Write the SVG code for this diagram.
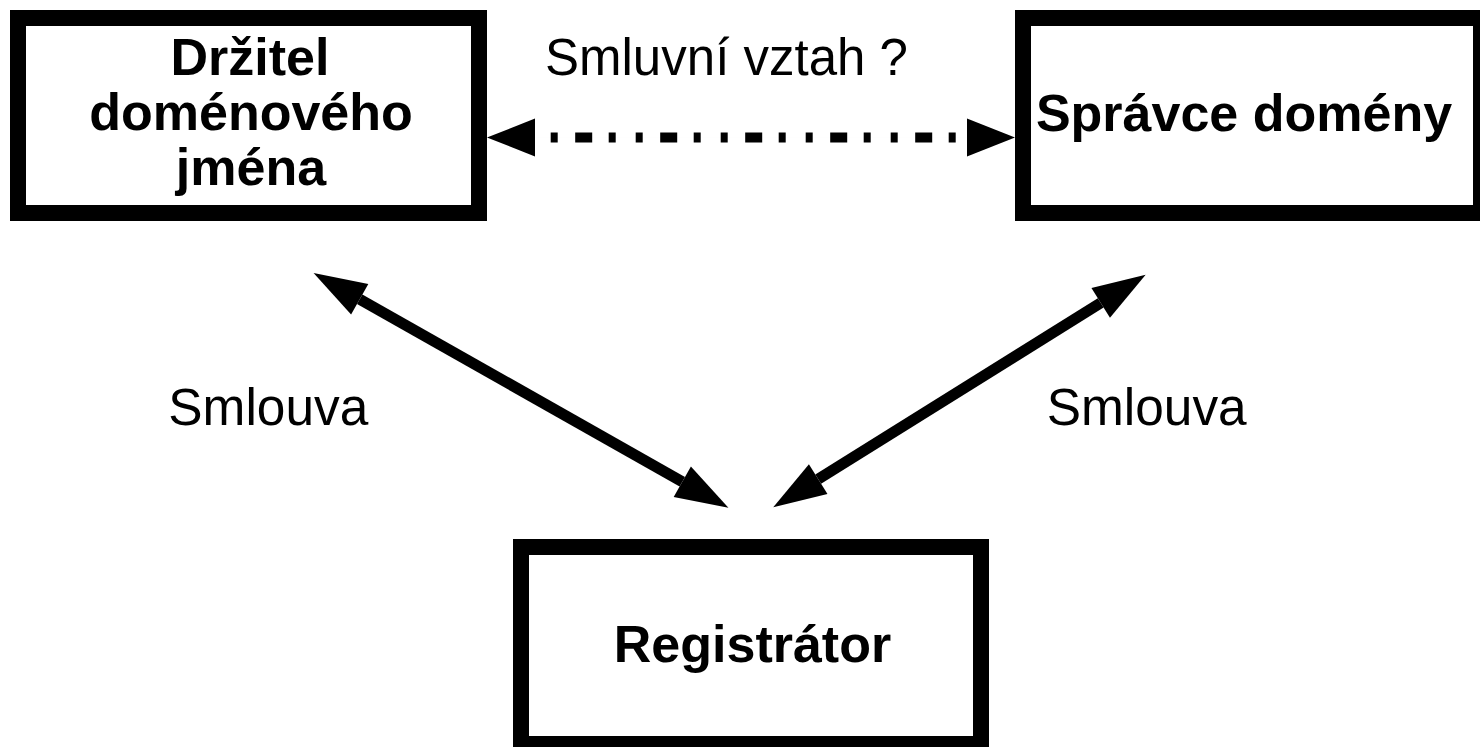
<svg xmlns="http://www.w3.org/2000/svg" width="1480" height="747" viewBox="0 0 1480 747">
<defs>
<style>
.box{fill:#fff;stroke:#000;stroke-width:16}
.b{font-family:"Liberation Sans",Arial,sans-serif;font-weight:bold;font-size:52px;fill:#000}
.r{font-family:"Liberation Sans",Arial,sans-serif;font-size:51px;fill:#000}
.diag{stroke:#000;stroke-width:11;fill:none;marker-start:url(#ad);marker-end:url(#ad)}
.dot{stroke:#000;stroke-width:10;fill:none;stroke-dasharray:7 17.5 17 16.5 7 20}
</style>
<marker id="ad" markerUnits="userSpaceOnUse" markerWidth="54" markerHeight="36" refX="0" refY="17.5" orient="auto-start-reverse" overflow="visible">
<path d="M0,0 L53,17.5 L0,35 Z" fill="#000"/>
</marker>
<marker id="ah" markerUnits="userSpaceOnUse" markerWidth="49" markerHeight="39" refX="0" refY="19" orient="auto-start-reverse" overflow="visible">
<path d="M0,0 L48,19 L0,38 Z" fill="#000"/>
</marker>
</defs>
<rect width="1480" height="747" fill="#fff"/>
<g id="connectors">
<line x1="535" y1="137.5" x2="967" y2="137.5" marker-start="url(#ah)" marker-end="url(#ah)" style="stroke:#000;stroke-width:0.01"/>
<line class="dot" x1="550.7" y1="137.5" x2="955.7" y2="137.5"/>
<line class="diag" x1="359.7" y1="299.2" x2="682.3" y2="481.7"/>
<line class="diag" x1="1100.7" y1="302.9" x2="818.2" y2="479.2"/>
<text class="r" x="545" y="75" textLength="363" lengthAdjust="spacingAndGlyphs">Smluvní vztah ?</text>
<text class="r" x="168.3" y="425" textLength="200" lengthAdjust="spacingAndGlyphs">Smlouva</text>
<text class="r" x="1046.7" y="425" textLength="200" lengthAdjust="spacingAndGlyphs">Smlouva</text>
</g>
<g id="drzitel">
<rect class="box" x="18" y="18" width="461" height="195"/>
<text class="b" x="250" y="75" text-anchor="middle">Držitel</text>
<text class="b" x="251" y="130" text-anchor="middle">doménového</text>
<text class="b" x="251" y="185" text-anchor="middle">jména</text>
</g>
<g id="spravce">
<rect class="box" x="1023" y="18" width="458" height="195"/>
<text class="b" x="1244" y="130.5" text-anchor="middle">Správce domény</text>
</g>
<g id="registrator">
<rect class="box" x="521" y="547" width="460" height="197"/>
<text class="b" x="752.5" y="662" text-anchor="middle">Registrátor</text>
</g>
</svg>
